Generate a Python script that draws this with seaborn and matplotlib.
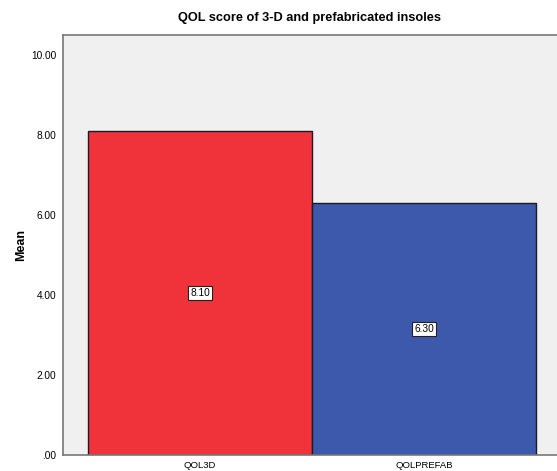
import matplotlib
matplotlib.use("Agg")
import matplotlib.pyplot as plt
import seaborn as sns
import pandas as pd

categories = ["QOL3D", "QOLPREFAB"]
means = [8.10, 6.30]
bar_colors = ["#F0323A", "#3D59AB"]
yticks = [0, 2, 4, 6, 8, 10]
ytick_labels = [".00", "2.00", "4.00", "6.00", "8.00", "10.00"]

sns.set_style("white")
plt.rcParams['font.family'] = ['Liberation Sans', 'DejaVu Sans']
plt.rcParams['text.color'] = 'black'
plt.rcParams['xtick.labelcolor'] = 'black'
plt.rcParams['ytick.labelcolor'] = 'black'

df = pd.DataFrame({"cat": categories, "mean": means})

fig = plt.figure(figsize=(5.57, 4.71), dpi=100)
W, H = 557, 471
ax = fig.add_axes([63 / W, (H - 455) / H, (557 - 63) / W, (455 - 35) / H])
ax.set_facecolor("#F0F0F0")

sns.barplot(data=df, x="cat", y="mean", hue="cat", palette=bar_colors,
            saturation=1.0, width=1.0, edgecolor="#1a1a2a", linewidth=1.0,
            legend=False, ax=ax, zorder=2)

ax.set_xlim(-0.6116, 1.594)
ax.set_ylim(0, 10.5)
ax.set_yticks(yticks)
ax.set_yticklabels(ytick_labels, fontsize=7.3)
ax.tick_params(axis="y", direction="out", length=4, width=0.8, color="#333333", pad=1)
ax.tick_params(axis="x", direction="out", length=4, width=0.8, color="#333333", pad=0.5, labelsize=6.8)
ax.set_xlabel("")
ax.set_ylabel("Mean", fontsize=9, fontweight="bold", color="black", labelpad=3)

for s in ["left", "bottom", "top"]:
    ax.spines[s].set_visible(True)
    ax.spines[s].set_color("#777777")
    ax.spines[s].set_linewidth(1.2)
ax.spines["right"].set_visible(False)

for i, v in enumerate(means):
    ax.text(i, v / 2, f"{v:.2f}", ha="center", va="center", fontsize=7.3, color="black",
            bbox=dict(boxstyle="square,pad=0.18", fc="white", ec="#222222", lw=0.8),
            zorder=3)

fig.text(0.5 * (63 + 557) / W, 1 - 18 / H, "QOL score of 3-D and prefabricated insoles",
         ha="center", va="center", fontsize=9.2, fontweight="bold", color="black")

fig.savefig("out.png", dpi=100)
